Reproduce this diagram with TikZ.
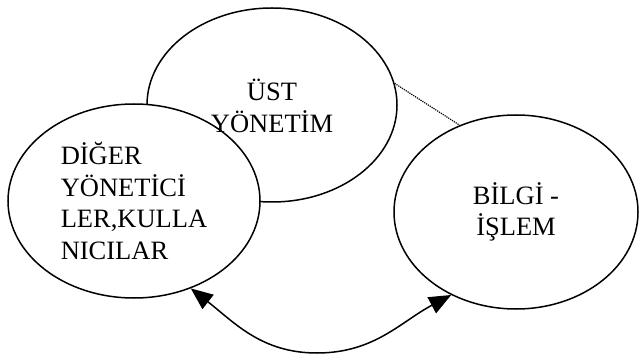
\documentclass[tikz,border=0pt]{standalone}
\usepackage{fontspec}
\setmainfont{Liberation Serif}
\usetikzlibrary{shapes.geometric,arrows.meta}

\begin{document}
\begin{tikzpicture}[x=1pt,y=-1pt,
  oval/.style={draw=black, line width=1.5pt, ellipse, inner sep=0pt, fill=white},
  label/.style={font=\fontsize{26.5}{31.5}\selectfont, inner sep=0pt},
  link/.style={line width=1.5pt, {Triangle[length=22pt,width=18pt]}-{Triangle[length=22pt,width=18pt]}},
  hint/.style={line width=1.2pt, densely dotted}]
  \useasboundingbox (0,0) rectangle (639,355);

  % top management oval, its outline partly hidden by the left oval
  \node[oval, minimum width=250pt, minimum height=194pt] (ust) at (272,105) {};
  % other managers and users
  \node[oval, minimum width=252pt, minimum height=194pt, align=left, label] (diger) at (134,201)
    {DİĞER\\YÖNETİCİ\\LER,KULLA\\NICILAR};
  % information processing
  \node[oval, minimum width=244pt, minimum height=194pt, align=center, label] (bilgi) at (516,212)
    {BİLGİ -\\İŞLEM};
  % top management caption sits above the left oval
  \node[label, align=center] (usttext) at ([yshift=-1pt]ust.center) {ÜST\\YÖNETİM};

  % dotted link between top management and information processing
  \draw[hint] (ust.10) -- (bilgi.123);
  % two-way flow between users and information processing
  \draw[link] (diger.-57) to[out=-38, in=180] (317,353) to[out=0, in=-152] (bilgi.-128);
\end{tikzpicture}
\end{document}
